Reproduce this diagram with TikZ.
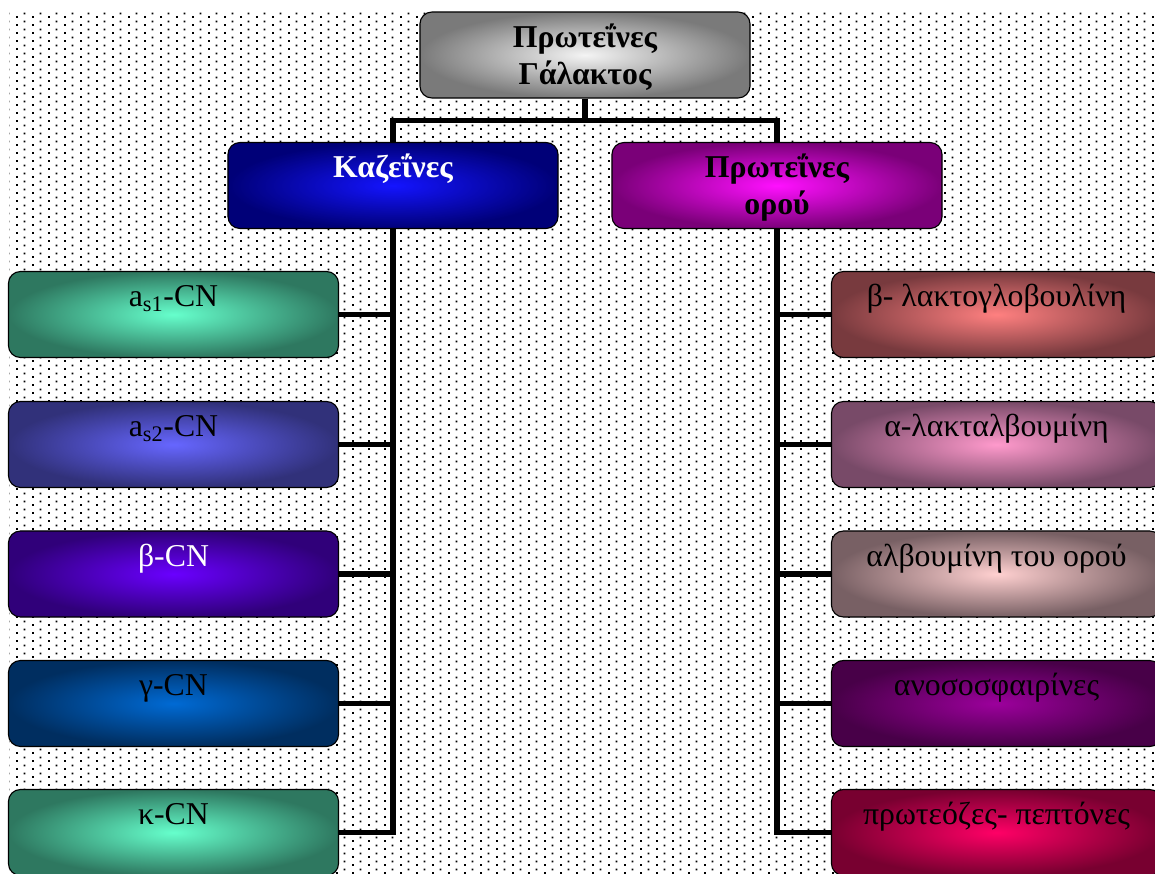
\documentclass[tikz,border=0pt]{standalone}
\usepackage{fontspec}
\setmainfont{Liberation Serif}
\usetikzlibrary{patterns}

\definecolor{greyin}{HTML}{F4F4F4}
\definecolor{greyout}{HTML}{7A7A7A}
\definecolor{navyin}{HTML}{1414FF}
\definecolor{navyout}{HTML}{000078}
\definecolor{plumin}{HTML}{FF10FF}
\definecolor{plumout}{HTML}{7A0078}
\definecolor{tealin}{HTML}{66FFCC}
\definecolor{tealout}{HTML}{2E7860}
\definecolor{slatein}{HTML}{6666FF}
\definecolor{slateout}{HTML}{31317A}
\definecolor{indigoin}{HTML}{6A00FF}
\definecolor{indigoout}{HTML}{30007A}
\definecolor{oceanin}{HTML}{006AD4}
\definecolor{oceanout}{HTML}{002E60}
\definecolor{roseIn}{HTML}{FF8080}
\definecolor{roseOut}{HTML}{783A3E}
\definecolor{pinkIn}{HTML}{FF9ACC}
\definecolor{pinkOut}{HTML}{784A68}
\definecolor{blushIn}{HTML}{FFD0D0}
\definecolor{blushOut}{HTML}{786064}
\definecolor{grapeIn}{HTML}{9C009C}
\definecolor{grapeOut}{HTML}{480048}
\definecolor{cherryIn}{HTML}{FF0066}
\definecolor{cherryOut}{HTML}{780030}

\pgfdeclarepatternformonly{paperdots}{\pgfpointorigin}{\pgfqpoint{11.381pt}{5.690pt}}{\pgfqpoint{11.381pt}{5.690pt}}{%
  \pgfpathrectangle{\pgfpointorigin}{\pgfqpoint{1.4pt}{1.4pt}}%
  \pgfpathrectangle{\pgfqpoint{5.690pt}{2.845pt}}{\pgfqpoint{1.4pt}{1.4pt}}%
  \pgfusepath{fill}}

\begin{document}
\begin{tikzpicture}[
      x=0.025cm, y=-0.025cm,
      box_node/.style={
         rectangle,
         rounded corners=0.3cm,
         draw=black,
         line width=0.8pt,
         shade,
         minimum width=8.25cm,
         minimum height=2.15cm,
         inner sep=0pt,
         align=center,
         text height=0.875cm,
         text depth=1.275cm,
         font=\fontsize{22.6pt}{26pt}\selectfont},
      two_line/.style={
         text height=1.8cm,
         text depth=0.35cm},
      link_line/.style={
         draw=black,
         line width=4pt,
         }
]
      \useasboundingbox (0,0) rectangle (1155,873);
      \fill[pattern=paperdots] (9,11) rectangle (1155,873);

      %root
      \node[box_node,two_line,inner color=greyin,outer color=greyout,font=\fontsize{22.6pt}{26pt}\selectfont\bfseries] (milk) at (585,55) {Πρωτεΐνες\\Γάλακτος};

      \node[box_node,inner color=navyin,outer color=navyout,text=white,font=\fontsize{22.6pt}{26pt}\selectfont\bfseries] (caseins) at (393,185.5) {Καζεΐνες};
      \node[box_node,two_line,inner color=plumin,outer color=plumout,font=\fontsize{22.6pt}{26pt}\selectfont\bfseries] (whey) at (777,185.5) {Πρωτεΐνες\\ορού};

      \draw[link_line] (milk.south) -- ++(0,22) -| (caseins.north);
      \draw[link_line] (milk.south) -- ++(0,22) -| (whey.north);

    \foreach \n/\y/\ci/\co/\tc/\txt in {% name/height/inner/outer/text colour/text
      as1/314.5/tealin/tealout/black/a\textsubscript{s1}-CN,
      as2/444.5/slatein/slateout/black/a\textsubscript{s2}-CN,
      bcn/574/indigoin/indigoout/white/β-CN,
      gcn/703.5/oceanin/oceanout/black/γ-CN,
      kcn/832.5/tealin/tealout/black/κ-CN}
      \node[box_node,inner color=\ci,outer color=\co,text=\tc] (\n) at (173.5,\y) {\txt};

    \foreach \n/\y/\ci/\co/\txt in {% name/height/inner/outer/text
      blg/314.5/roseIn/roseOut/β- λακτογλοβουλίνη,
      ala/444.5/pinkIn/pinkOut/α-λακταλβουμίνη,
      sal/574/blushIn/blushOut/αλβουμίνη του ορού,
      igs/703.5/grapeIn/grapeOut/ανοσοσφαιρίνες,
      ppt/832.5/cherryIn/cherryOut/πρωτεόζες- πεπτόνες}
      \node[box_node,inner color=\ci,outer color=\co] (\n) at (996.5,\y) {\txt};

    \foreach \b in {as1,as2,bcn,gcn,kcn}
      \draw[link_line] (caseins.south) |- (\b.east);
    \foreach \b in {blg,ala,sal,igs,ppt}
      \draw[link_line] (whey.south) |- (\b.west);

\end{tikzpicture}
\end{document}
